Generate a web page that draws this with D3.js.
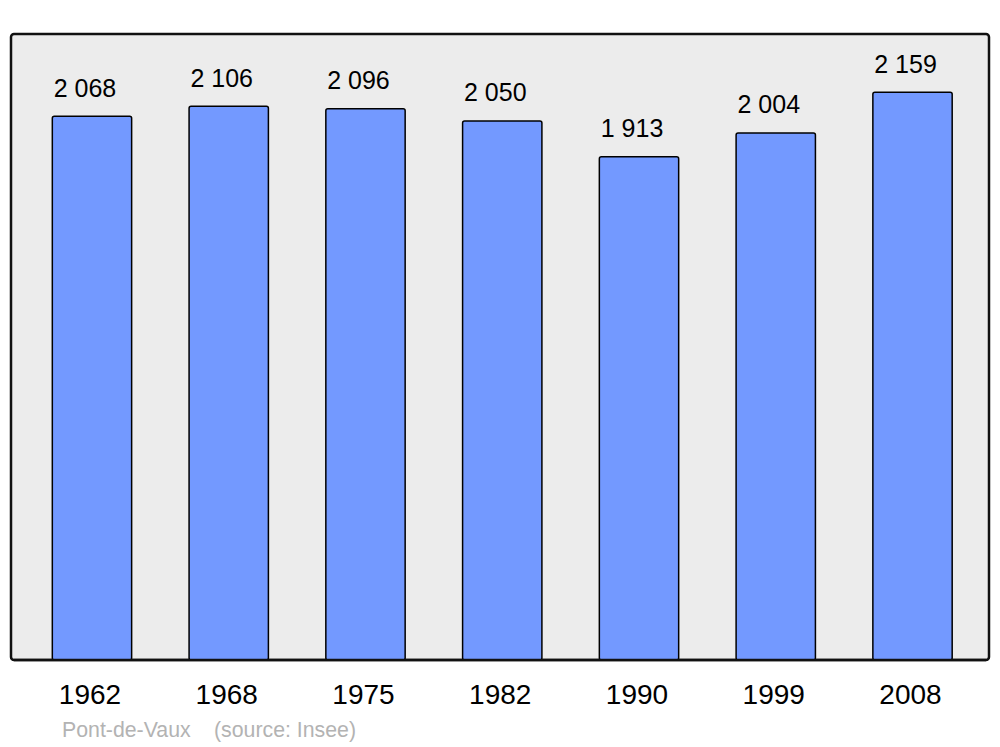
<!DOCTYPE html>
<html>
<head>
<meta charset="utf-8">
<script src="https://cdn.jsdelivr.net/npm/d3@7"></script>
<style>
  body { margin: 0; background: #fff; }
  svg { display: block; font-family: "Liberation Sans", Arial, sans-serif; }
</style>
</head>
<body>
<svg id="chart"></svg>
<script>
const years = ["1962", "1968", "1975", "1982", "1990", "1999", "2008"]
const population = [2068, 2106, 2096, 2050, 1913, 2004, 2159]
const place = "Pont-de-Vaux"
const source = "(source: Insee)"

const w = 1000, h = 747
const panel = { x0: 11, y0: 34, x1: 989, y1: 660 }

let svg = d3.select("#chart")
  .attr("width", w)
  .attr("height", h)

let x = d3.scaleBand()
  .domain(years)
  .range([23.6, 980.9])
  .paddingInner(0.42)
  .paddingOuter(0.21)

let y = d3.scaleLinear()
  .domain([0, 2381])
  .range([659, panel.y0])

// french style thousands: "2 068"
let fmt = d => d3.format(",")(d).replace(/,/g, " ")

svg.append("rect")
  .attr("x", panel.x0)
  .attr("y", panel.y0)
  .attr("width", panel.x1 - panel.x0)
  .attr("height", panel.y1 - panel.y0)
  .attr("rx", 3)
  .attr("fill", "#ececec")
  .attr("stroke", "#111")
  .attr("stroke-width", 2.5)

let data = years.map((yr, i) => ({ year: yr, value: population[i] }))

svg.append("g")
  .selectAll("rect")
  .data(data)
  .enter().append("rect")
  .attr("x", d => x(d.year))
  .attr("y", d => y(d.value))
  .attr("width", x.bandwidth())
  .attr("height", d => panel.y1 - y(d.value))
  .attr("rx", 2)
  .attr("fill", "#7399ff")
  .attr("stroke", "#000")
  .attr("stroke-width", 1.5)

// redraw the bottom border over the bars
svg.append("line")
  .attr("x1", panel.x0 + 3)
  .attr("x2", panel.x1 - 3)
  .attr("y1", panel.y1)
  .attr("y2", panel.y1)
  .attr("stroke", "#111")
  .attr("stroke-width", 2.5)

svg.append("g")
  .selectAll("text")
  .data(data)
  .enter().append("text")
  .attr("x", d => x(d.year) + x.bandwidth() / 2 - 7)
  .attr("y", d => y(d.value) - 19.5)
  .attr("text-anchor", "middle")
  .attr("font-size", 25)
  .attr("fill", "#000")
  .text(d => fmt(d.value))

svg.append("g")
  .selectAll("text")
  .data(years)
  .enter().append("text")
  .attr("x", d => x(d) + x.bandwidth() / 2 - 2)
  .attr("y", 704)
  .attr("text-anchor", "middle")
  .attr("font-size", 28)
  .attr("fill", "#000")
  .text(d => d)

svg.append("text")
  .attr("x", 62)
  .attr("y", 737)
  .attr("font-size", 21.3)
  .attr("fill", "#b3b3b3")
  .text(place)

svg.append("text")
  .attr("x", 214)
  .attr("y", 737)
  .attr("font-size", 21.3)
  .attr("fill", "#b3b3b3")
  .text(source)
</script>
</body>
</html>
